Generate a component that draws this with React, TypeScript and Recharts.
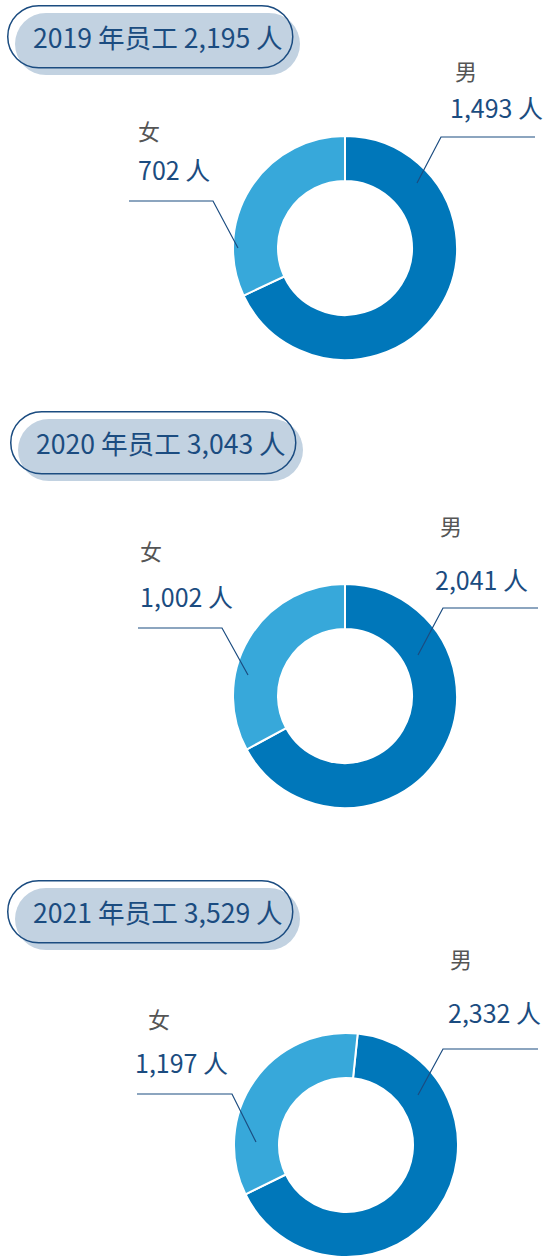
import { PieChart, Pie, Cell } from 'recharts';

// headcount by year
const years = ['2019', '2020', '2021'];
const totalCounts = [2195, 3043, 3529];
const maleCounts = [1493, 2041, 2332];
const femaleCounts = [702, 1002, 1197];
const genderNames = ['男', '女'];

const FONT = '"Noto Sans CJK SC", "Noto Sans", sans-serif';
const COLORS = ['#0077BA', '#37A8DA'];
const NAVY = '#1B4C80';

// layout per block (page coords): pill box, pie centre, label offsets from centre
const layouts = [
  {
    pillX: 7, pillY: 5, cx: 345, cy: 248, start: 90,
    male: { anchor: [72, -65], elbow: [96, -111], end: 190, name: [110, -168], num: [105, -130] },
    female: { anchor: [-107, 0], elbow: [-132, -47], end: -216, name: [-207, -108], num: [-207, -68] },
  },
  {
    pillX: 10, pillY: 411, cx: 345, cy: 696, start: 90,
    male: { anchor: [73, -41], elbow: [98, -88], end: 193, name: [95, -161], num: [90, -106] },
    female: { anchor: [-97, -21], elbow: [-123, -68], end: -207, name: [-205, -136], num: [-205, -89] },
  },
  {
    pillX: 7, pillY: 880, cx: 346, cy: 1145, start: 84,
    male: { anchor: [72, -50], elbow: [97, -96], end: 192, name: [104, -177], num: [102, -122] },
    female: { anchor: [-90, -3], elbow: [-114, -51], end: -209, name: [-198, -117], num: [-211, -72] },
  },
];

const fmt = (n: number) => n.toLocaleString('en-US');

const Pill = ({ i }: { i: number }) => {
  const L = layouts[i];
  return (
    <svg
      width={320}
      height={90}
      style={{ position: 'absolute', left: L.pillX - 5, top: L.pillY - 5 }}
    >
      <rect x={13} y={13} width={285} height={62} rx={31} fill="#C2D2E1" />
      <rect x={5.75} y={5.75} width={285} height={62} rx={31} fill="none" stroke={NAVY} strokeWidth={1.5} />
      <text x={31} y={48} fontSize={26.6} fill={NAVY} fontFamily={FONT}>
        {`${years[i]} 年员工 ${fmt(totalCounts[i])} 人`}
      </text>
    </svg>
  );
};

const YearDonut = ({ i }: { i: number }) => {
  const L = layouts[i];
  const offset = 240;
  const top = L.cy - offset;
  const height = Math.min(offset + 200, 1257 - top);
  const data = [
    { name: genderNames[0], value: maleCounts[i] },
    { name: genderNames[1], value: femaleCounts[i] },
  ];

  const renderLabel = (props: any) => {
    const { cx, cy, index } = props;
    const g = index === 0 ? L.male : L.female;
    const pts = [
      [cx + g.anchor[0], cy + g.anchor[1]],
      [cx + g.elbow[0], cy + g.elbow[1]],
      [cx + g.end, cy + g.elbow[1]],
    ];
    return (
      <g key={`lbl-${index}`}>
        <polyline
          points={pts.map((p) => p.join(',')).join(' ')}
          fill="none"
          stroke={NAVY}
          strokeWidth={1.2}
        />
        <text x={cx + g.name[0]} y={cy + g.name[1]} fontSize={22} fill="#555" fontFamily={FONT}>
          {data[index].name}
        </text>
        <text x={cx + g.num[0]} y={cy + g.num[1]} fontSize={25} fill={NAVY} fontFamily={FONT}>
          {`${fmt(data[index].value)} 人`}
        </text>
      </g>
    );
  };

  return (
    <div style={{ position: 'absolute', left: 0, top }}>
      <PieChart width={547} height={height} margin={{ top: 0, right: 0, bottom: 0, left: 0 }}>
        <Pie
          data={data}
          dataKey="value"
          cx={L.cx}
          cy={offset}
          innerRadius={67}
          outerRadius={112}
          startAngle={L.start}
          endAngle={L.start - 360}
          stroke="#fff"
          strokeWidth={2}
          label={renderLabel}
          labelLine={false}
          isAnimationActive={false}
        >
          {data.map((d, k) => (
            <Cell key={d.name} fill={COLORS[k]} />
          ))}
        </Pie>
      </PieChart>
    </div>
  );
};

export default function App() {
  return (
    <div
      style={{
        position: 'absolute',
        left: 0,
        top: 0,
        width: 547,
        height: 1257,
        overflow: 'hidden',
        background: '#fff',
        fontFamily: FONT,
      }}
    >
      {years.map((y, i) => (
        <YearDonut key={`d${y}`} i={i} />
      ))}
      {years.map((y, i) => (
        <Pill key={`p${y}`} i={i} />
      ))}
    </div>
  );
}
